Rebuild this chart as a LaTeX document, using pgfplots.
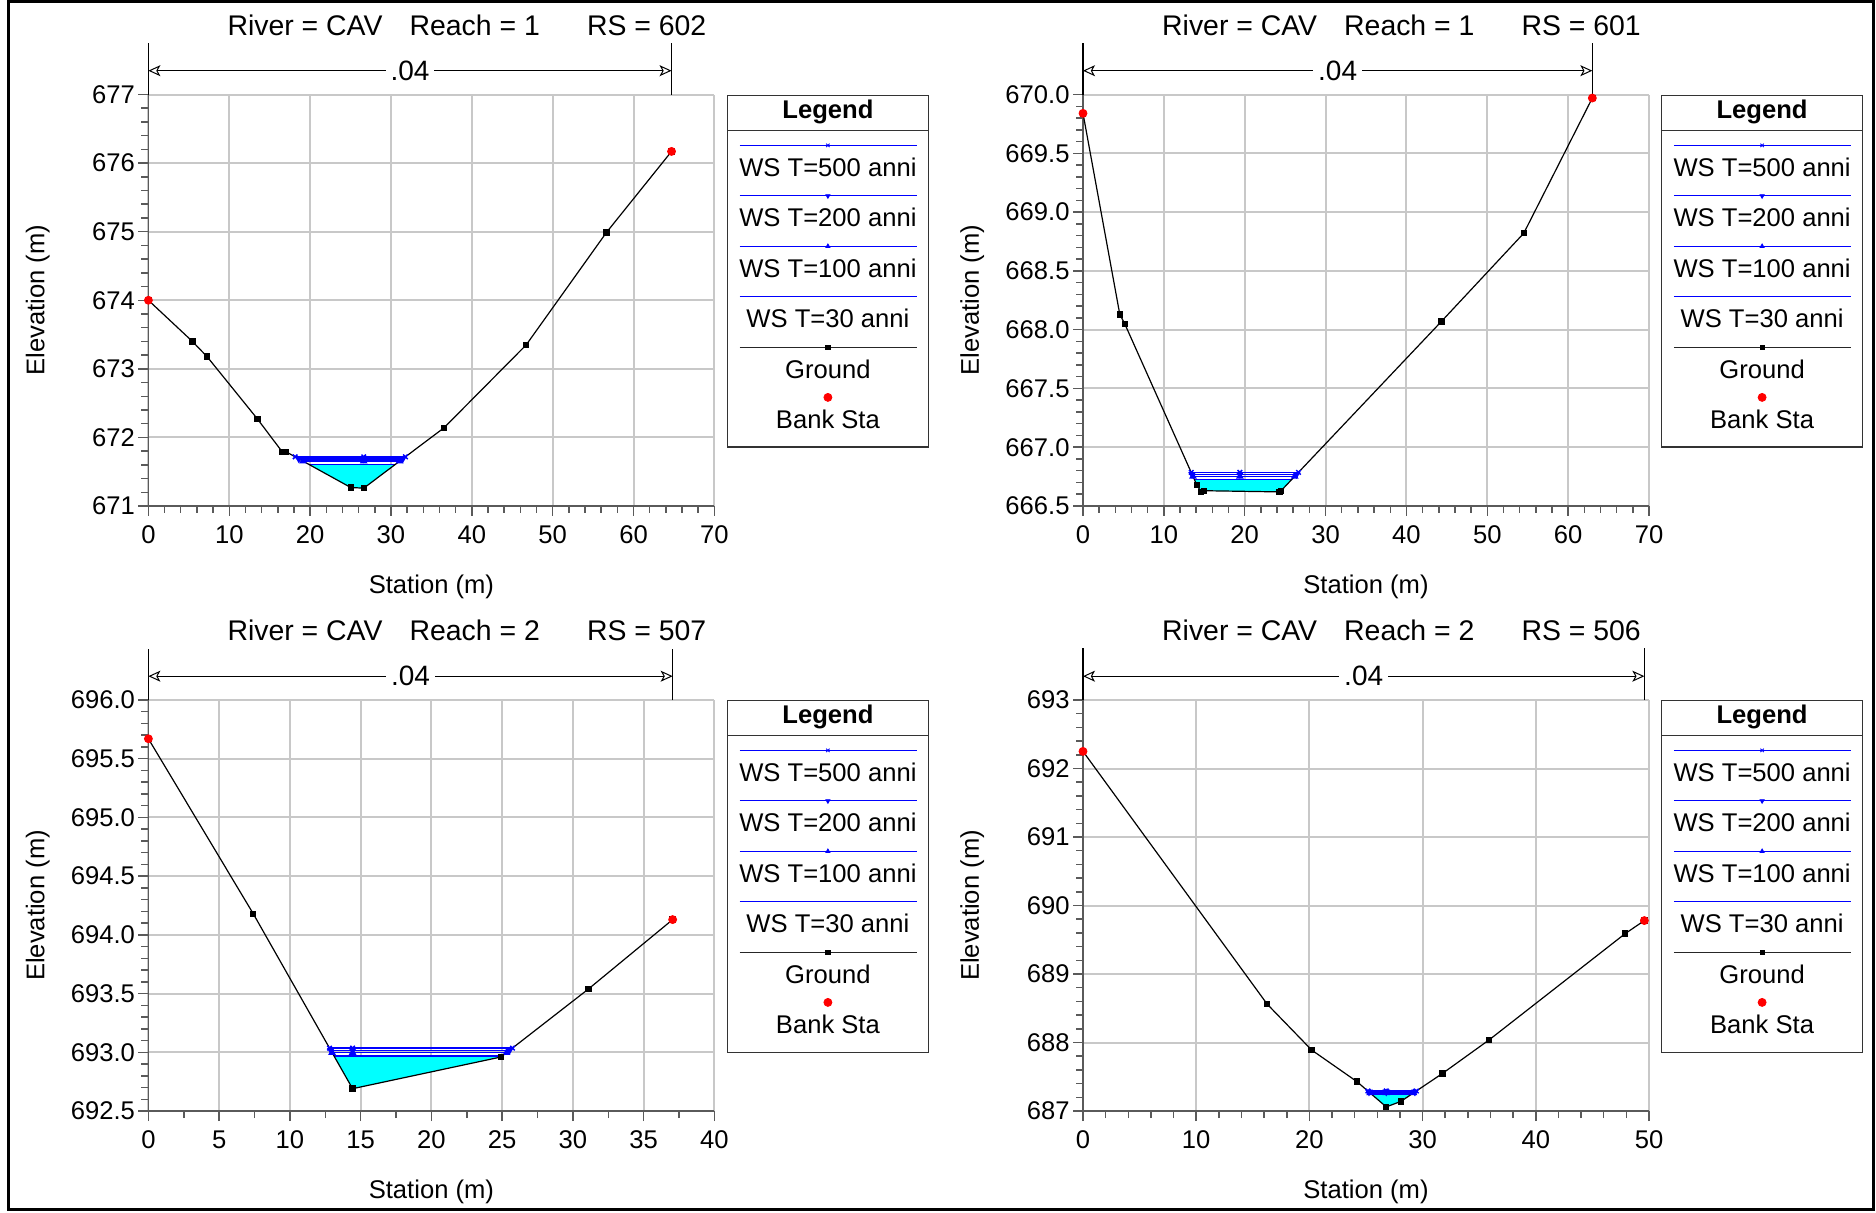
\documentclass[border=0pt]{standalone}
\usepackage{fontspec}
\setmainfont{Liberation Sans}
\usepackage{pgfplots}
\pgfplotsset{compat=1.18}
\usetikzlibrary{calc,arrows.meta}
\definecolor{gridgray}{RGB}{200,200,200}
\definecolor{axgray}{RGB}{90,90,90}
\definecolor{aqua}{RGB}{0,255,255}
\definecolor{wsblue}{RGB}{0,0,255}
\definecolor{bankred}{RGB}{255,0,0}
\newcommand{\lfont}{\fontsize{12.8pt}{15pt}\selectfont}
\newcommand{\tfont}{\fontsize{14.2pt}{17pt}\selectfont}
\newcommand{\nfont}{\fontsize{14pt}{17pt}\selectfont}

\pgfplotsset{
  panel/.style={
    scale only axis, width=283pt, height=205.75pt, anchor=south west,
    axis x line*=bottom, axis y line*=left,
    axis line style={-, line width=0.75pt, color=axgray},
    tick align=outside,
    major tick length=5pt, minor tick length=3.5pt,
    every tick/.style={line width=0.75pt, color=axgray},
    minor x tick num=4, minor y tick num=4,
    grid=major, major grid style={line width=1pt, color=gridgray},
    tick label style={font=\lfont},
    xticklabel style={yshift=-1.5pt},
    yticklabel style={xshift=1.8pt},
    /pgf/number format/assume math mode=true,
    scaled ticks=false,
    clip=false,
    xlabel={Station (m)}, ylabel={Elevation (m)},
    every axis x label/.style={at={(rel axis cs:0.5,0)}, anchor=center, yshift=-40.6pt, font=\lfont},
    every axis y label/.style={at={(rel axis cs:0,0.5)}, anchor=center, xshift=-55.35pt, rotate=90, font=\lfont},
  },
  ground/.style={black, line width=0.6pt, mark=square*, mark size=1.3pt, mark options={solid}},
  bank/.style={only marks, mark=*, mark size=2pt, bankred, mark options={draw=bankred, fill=bankred}},
  ws500/.style={wsblue, line width=0.75pt, mark=x, mark size=1.6pt},
  ws200/.style={wsblue, line width=0.75pt, mark=triangle*, mark size=1.5pt, mark options={rotate=180}},
  ws100/.style={wsblue, line width=0.75pt, mark=triangle*, mark size=1.5pt},
  ws30/.style={wsblue, line width=0.75pt},
  water/.style={fill=aqua, draw=none},
}

% #1 = relative x position of the right bank station
\newcommand{\nbar}[1]{%
  \draw[black, line width=0.6pt] (rel axis cs:0,1) -- ++(0pt,25.75pt);
  \draw[black, line width=0.6pt] (rel axis cs:#1,1) -- ++(0pt,25.75pt);
  \draw[{Stealth[open,length=6pt,width=5.5pt,inset=1.5pt]}-{Stealth[open,length=6pt,width=5.5pt,inset=1.5pt]}, line width=0.5pt] ($(rel axis cs:0,1)+(0pt,11.9pt)$) -- ($(rel axis cs:#1,1)+(0pt,11.9pt)$) node[midway, fill=white, inner sep=2.5pt, font=\nfont] {.04};
}
\newcommand{\ptitle}[2]{%
  \node[anchor=base west, inner sep=0, font=\tfont] at ($(rel axis cs:0,1)+(39.4pt,29.75pt)$) {River = CAV};
  \node[anchor=base west, inner sep=0, font=\tfont] at ($(rel axis cs:0,1)+(130.4pt,29.75pt)$) {Reach = #1};
  \node[anchor=base west, inner sep=0, font=\tfont] at ($(rel axis cs:0,1)+(219.1pt,29.75pt)$) {RS = #2};
}
\newcommand{\mylegend}[2]{%
\begin{scope}[shift={(#1,#2)}]
  \draw[black!80, line width=0.6pt] (0pt,0pt) rectangle (100.7pt,-175.85pt);
  \draw[black!80, line width=0.6pt] (0pt,-17.5pt) -- (100.7pt,-17.5pt);
  \node[anchor=base, inner sep=0, font=\bfseries\lfont] at (50.35pt,-11.35pt) {Legend};
  \draw[wsblue, line width=0.6pt] (6.2pt,-25pt) -- (94.7pt,-25pt);
  \draw[wsblue, mark=x, mark size=1.2pt] plot coordinates {(50.35pt,-25pt)};
  \node[anchor=base, inner sep=0, font=\lfont] at (50.35pt,-40.6pt) {WS T=500 anni};
  \draw[wsblue, line width=0.6pt] (6.2pt,-50.25pt) -- (94.7pt,-50.25pt);
  \draw[wsblue, mark=triangle*, mark size=1.2pt, mark options={rotate=180}] plot coordinates {(50.35pt,-50.25pt)};
  \node[anchor=base, inner sep=0, font=\lfont] at (50.35pt,-65.8pt) {WS T=200 anni};
  \draw[wsblue, line width=0.6pt] (6.2pt,-75.5pt) -- (94.7pt,-75.5pt);
  \draw[wsblue, mark=triangle*, mark size=1.2pt] plot coordinates {(50.35pt,-75.5pt)};
  \node[anchor=base, inner sep=0, font=\lfont] at (50.35pt,-91.05pt) {WS T=100 anni};
  \draw[wsblue, line width=0.6pt] (6.2pt,-100.75pt) -- (94.7pt,-100.75pt);
  \node[anchor=base, inner sep=0, font=\lfont] at (50.35pt,-116.3pt) {WS T=30 anni};
  \draw[black!85, line width=0.6pt] (6.2pt,-126pt) -- (94.7pt,-126pt);
  \draw[black, mark=square*, mark size=1.1pt] plot coordinates {(50.35pt,-126pt)};
  \node[anchor=base, inner sep=0, font=\lfont] at (50.35pt,-141.55pt) {Ground};
  \draw[bankred, mark=*, mark size=2pt, mark options={fill=bankred}] plot coordinates {(50.35pt,-151pt)};
  \node[anchor=base, inner sep=0, font=\lfont] at (50.35pt,-166.4pt) {Bank Sta};
\end{scope}}

\begin{document}
\begin{tikzpicture}
\useasboundingbox (0pt,0pt) rectangle (938pt,606pt);

% ---------- Panel 1 ----------
\begin{axis}[panel, at={(74.2pt,353pt)},
  xmin=0, xmax=70, ymin=671, ymax=677,
  xtick={0,10,20,30,40,50,60,70}, ytick={671,672,673,674,675,676,677}]
\addplot[water] coordinates {(19.86,671.606) (25.02,671.27) (26.63,671.26) (30.54,671.606)};
\addplot[ws30] coordinates {(19.86,671.606) (30.54,671.606)};
\addplot[ws100] coordinates {(19.12,671.654) (26.63,671.654) (31.08,671.654)};
\addplot[ws200] coordinates {(18.60,671.688) (26.63,671.688) (31.46,671.688)};
\addplot[ws500] coordinates {(18.15,671.717) (26.63,671.717) (31.79,671.717)};
\addplot[ground] coordinates {(0,674.00) (5.44,673.40) (7.24,673.18) (13.48,672.27) (16.55,671.79) (17.03,671.79) (25.02,671.27) (26.63,671.26) (36.56,672.14) (46.73,673.35) (56.66,674.99) (64.70,676.17)};
\addplot[bank] coordinates {(0,674.00) (64.70,676.17)};
\nbar{0.92429}
\ptitle{1}{602}
\end{axis}

% ---------- Panel 2 ----------
\begin{axis}[panel, at={(541.5pt,353pt)},
  xmin=0, xmax=70, ymin=666.5, ymax=670,
  xtick={0,10,20,30,40,50,60,70}, ytick={666.5,667,667.5,668,668.5,669,669.5,670},
  yticklabel style={/pgf/number format/fixed, /pgf/number format/fixed zerofill, /pgf/number format/precision=1}]
\addplot[water] coordinates {(13.76,666.727) (14.07,666.68) (14.59,666.62) (14.97,666.63) (24.30,666.62) (24.50,666.63) (25.84,666.727)};
\addplot[ws30] coordinates {(13.76,666.727) (25.84,666.727)};
\addplot[ws100] coordinates {(13.60,666.752) (19.40,666.752) (26.18,666.752)};
\addplot[ws200] coordinates {(13.49,666.769) (19.40,666.769) (26.41,666.769)};
\addplot[ws500] coordinates {(13.38,666.786) (19.40,666.786) (26.65,666.786)};
\addplot[ground] coordinates {(0,669.84) (4.55,668.13) (5.16,668.05) (14.07,666.68) (14.59,666.62) (14.97,666.63) (24.30,666.62) (24.50,666.63) (44.33,668.07) (54.51,668.82) (62.99,669.97)};
\addplot[bank] coordinates {(0,669.84) (62.99,669.97)};
\nbar{0.89986}
\ptitle{1}{601}
\end{axis}

% ---------- Panel 3 ----------
\begin{axis}[panel, at={(74.2pt,50.5pt)}, height=205.5pt,
  xmin=0, xmax=40, ymin=692.5, ymax=696,
  xtick={0,5,10,15,20,25,30,35,40}, minor x tick num=1,
  ytick={692.5,693,693.5,694,694.5,695,695.5,696},
  yticklabel style={/pgf/number format/fixed, /pgf/number format/fixed zerofill, /pgf/number format/precision=1}]
\addplot[water] coordinates {(13.12,692.968) (14.43,692.69) (24.92,692.96) (25.01,692.968)};
\addplot[ws30] coordinates {(13.12,692.968) (25.01,692.968)};
\addplot[ws100] coordinates {(12.98,692.997) (14.43,692.997) (25.31,692.997)};
\addplot[ws200] coordinates {(12.89,693.017) (14.43,693.017) (25.53,693.017)};
\addplot[ws500] coordinates {(12.80,693.036) (14.43,693.036) (25.73,693.036)};
\addplot[ground] coordinates {(0,695.67) (7.41,694.18) (14.43,692.69) (24.92,692.96) (31.11,693.54) (37.05,694.13)};
\addplot[bank] coordinates {(0,695.67) (37.05,694.13)};
\nbar{0.92625}
\ptitle{2}{507}
\end{axis}

% ---------- Panel 4 ----------
\begin{axis}[panel, at={(541.5pt,50.5pt)}, height=205.5pt,
  xmin=0, xmax=50, ymin=687, ymax=693,
  xtick={0,10,20,30,40,50}, ytick={687,688,689,690,691,692,693}]
\addplot[water] coordinates {(25.47,687.248) (26.79,687.06) (28.08,687.14) (29.05,687.248)};
\addplot[ws30] coordinates {(25.47,687.248) (29.05,687.248)};
\addplot[ws100] coordinates {(25.36,687.263) (26.79,687.263) (29.19,687.263)};
\addplot[ws200] coordinates {(25.26,687.278) (26.79,687.278) (29.32,687.278)};
\addplot[ws500] coordinates {(25.16,687.292) (26.79,687.292) (29.45,687.292)};
\addplot[ground] coordinates {(0,692.25) (16.27,688.56) (20.20,687.89) (24.19,687.43) (26.79,687.06) (28.08,687.14) (31.77,687.55) (35.89,688.04) (47.90,689.59) (49.59,689.78)};
\addplot[bank] coordinates {(0,692.25) (49.59,689.78)};
\nbar{0.9918}
\ptitle{2}{506}
\end{axis}

\mylegend{363.6pt}{558.3pt}
\mylegend{830.7pt}{558.3pt}
\mylegend{363.6pt}{255.8pt}
\mylegend{830.7pt}{255.8pt}

\draw[black, line width=1.3pt] (4.15pt,1.15pt) rectangle (936.75pt,605.1pt);
\end{tikzpicture}
\end{document}
